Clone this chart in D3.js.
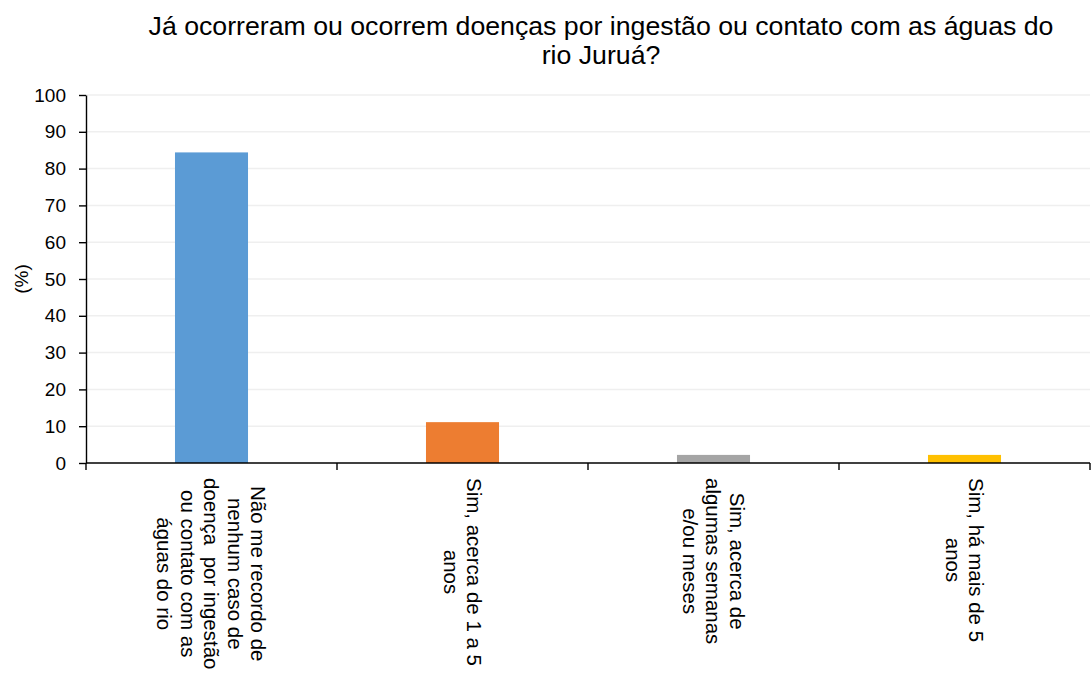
<!DOCTYPE html>
<html>
<head>
<meta charset="utf-8">
<script src="https://cdn.jsdelivr.net/npm/d3@7"></script>
<style>
  html, body { margin: 0; padding: 0; background: #ffffff; }
  svg { display: block; font-family: "Liberation Sans", Arial, sans-serif; }
</style>
</head>
<body>
<svg id="chart" width="1091" height="675"></svg>
<script>
// Survey answers (percent of respondents)
const titleLines = [
  "Já ocorreram ou ocorrem doenças por ingestão ou contato com as águas do",
  "rio Juruá?"
];
const categories = [
  ["Não me recordo de", "nenhum caso de", "doença  por ingestão", "ou contato com as", "águas do rio"],
  ["Sim, acerca de 1 a 5", "anos"],
  ["Sim, acerca de", "algumas semanas", "e/ou meses"],
  ["Sim, há mais de 5", "anos"]
];
const values = [84.4, 11.1, 2.2, 2.2];
const colors = ["#5b9bd5", "#ed7d31", "#a5a5a5", "#ffc000"];
const yTicks = [0, 10, 20, 30, 40, 50, 60, 70, 80, 90, 100];
const yLabel = "(%)";

const svg = d3.select("#chart");
const plotLeft = 86, plotRight = 1090, plotTop = 95, plotBottom = 463;

const x = d3.scaleBand()
  .domain(d3.range(categories.length))
  .range([plotLeft, plotRight])
  .paddingInner(0.709)
  .paddingOuter(0.709 / 2);
const step = (plotRight - plotLeft) / categories.length;

const y = d3.scaleLinear().domain([0, 100]).range([plotBottom, plotTop]);

// Horizontal gridlines
svg.append("g")
  .selectAll("line")
  .data(yTicks.filter(d => d > 0))
  .join("line")
  .attr("x1", plotLeft).attr("x2", plotRight)
  .attr("y1", d => y(d)).attr("y2", d => y(d))
  .attr("stroke", "#efefef")
  .attr("stroke-width", 1.5);

// Bars
svg.append("g")
  .selectAll("rect")
  .data(values)
  .join("rect")
  .attr("x", (d, i) => x(i))
  .attr("width", x.bandwidth())
  .attr("y", d => y(d))
  .attr("height", d => y(0) - y(d))
  .attr("fill", (d, i) => colors[i]);

// Y axis
const yAxis = svg.append("g")
  .attr("transform", `translate(${plotLeft},0)`)
  .call(d3.axisLeft(y).tickValues(yTicks).tickSize(7).tickPadding(13).tickSizeOuter(0));
yAxis.select(".domain").attr("stroke", "#000").attr("stroke-width", 1.4);
yAxis.selectAll(".tick line").attr("stroke", "#000").attr("stroke-width", 1.4);
yAxis.selectAll(".tick text")
  .attr("fill", "#000")
  .style("font-size", "19px")
  .style("font-family", "'Liberation Sans', Arial, sans-serif");

// X axis baseline with ticks at category boundaries
const xg = svg.append("g");
xg.append("line")
  .attr("x1", plotLeft).attr("x2", plotRight)
  .attr("y1", y(0)).attr("y2", y(0))
  .attr("stroke", "#000").attr("stroke-width", 1.4);
xg.selectAll("line.tk")
  .data(d3.range(categories.length + 1))
  .join("line")
  .attr("class", "tk")
  .attr("x1", d => plotLeft + d * step).attr("x2", d => plotLeft + d * step)
  .attr("y1", y(0)).attr("y2", y(0) + 7)
  .attr("stroke", "#000").attr("stroke-width", 1.4);

// Rotated multi-line category labels
const lineStep = 23.5;
const labelTop = 478;
categories.forEach((lines, i) => {
  const cx = x(i) + x.bandwidth() / 2;
  const g = svg.append("g")
    .attr("transform", `translate(${cx},${labelTop}) rotate(90)`);
  const texts = g.selectAll("text")
    .data(lines)
    .join("text")
    .attr("y", (d, j) => (j - (lines.length - 1) / 2) * lineStep)
    .attr("dy", "0.35em")
    .attr("text-anchor", "middle")
    .style("font-size", "20.5px")
    .style("white-space", "pre")
    .attr("fill", "#000")
    .text(d => d);
  let maxLen = 0;
  texts.each(function () { maxLen = Math.max(maxLen, this.getComputedTextLength()); });
  texts.attr("x", maxLen / 2);
});

// Y axis title
svg.append("text")
  .attr("transform", `translate(21,${(plotTop + plotBottom) / 2}) rotate(-90)`)
  .attr("text-anchor", "middle")
  .attr("dy", "0.35em")
  .style("font-size", "19px")
  .attr("fill", "#000")
  .text(yLabel);

// Chart title
svg.append("g")
  .selectAll("text")
  .data(titleLines)
  .join("text")
  .attr("x", 601)
  .attr("y", (d, i) => 35 + i * 28.5)
  .attr("text-anchor", "middle")
  .style("font-size", "26.7px")
  .attr("fill", "#000")
  .text(d => d);
</script>
</body>
</html>
